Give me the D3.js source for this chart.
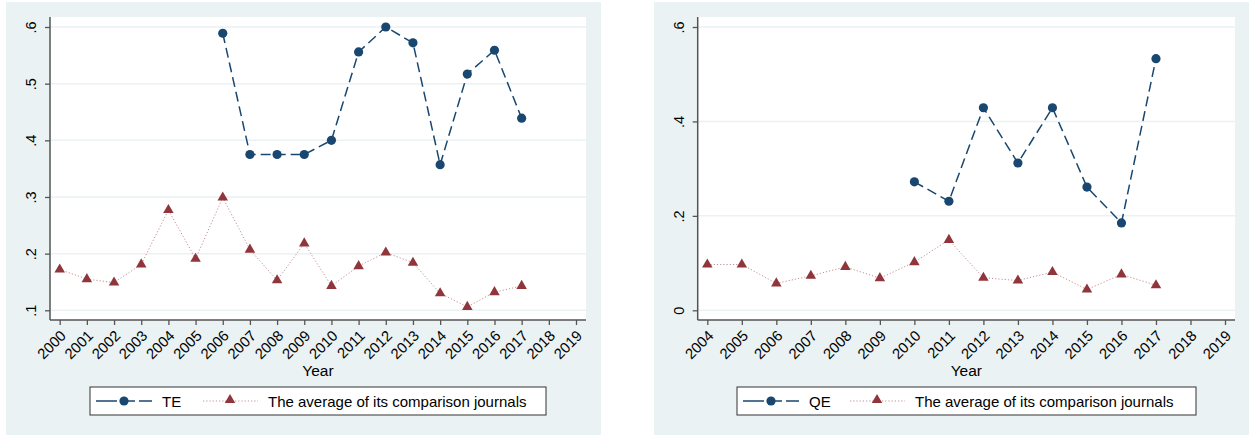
<!DOCTYPE html>
<meta charset="utf-8">
<script src="https://d3js.org/d3.v7.min.js"></script>
<style>
  body { margin: 0; background: #fff; }
  text { font-family: "Liberation Sans", Arial, sans-serif; fill: #000; }
</style>
<div id="chart"></div>
<script>
// ---- data ----
const teAxisYears = [2000, 2001, 2002, 2003, 2004, 2005, 2006, 2007, 2008, 2009,
                     2010, 2011, 2012, 2013, 2014, 2015, 2016, 2017, 2018, 2019];
const teYears = [2006, 2007, 2008, 2009, 2010, 2011, 2012, 2013, 2014, 2015, 2016, 2017];
const teValues = [0.589, 0.375, 0.375, 0.375, 0.400, 0.556, 0.600, 0.572, 0.357, 0.517, 0.559, 0.439];
const teAvgYears = [2000, 2001, 2002, 2003, 2004, 2005, 2006, 2007, 2008, 2009,
                    2010, 2011, 2012, 2013, 2014, 2015, 2016, 2017];
const teAvgValues = [0.172, 0.155, 0.149, 0.181, 0.277, 0.191, 0.299, 0.207, 0.153, 0.218,
                     0.143, 0.178, 0.202, 0.184, 0.130, 0.106, 0.132, 0.143];
const teTicks = [0.1, 0.2, 0.3, 0.4, 0.5, 0.6];
const teTickLabels = [".1", ".2", ".3", ".4", ".5", ".6"];

const qeAxisYears = [2004, 2005, 2006, 2007, 2008, 2009, 2010, 2011,
                     2012, 2013, 2014, 2015, 2016, 2017, 2018, 2019];
const qeYears = [2010, 2011, 2012, 2013, 2014, 2015, 2016, 2017];
const qeValues = [0.272, 0.231, 0.429, 0.312, 0.429, 0.261, 0.185, 0.533];
const qeAvgYears = [2004, 2005, 2006, 2007, 2008, 2009, 2010, 2011,
                    2012, 2013, 2014, 2015, 2016, 2017];
const qeAvgValues = [0.097, 0.097, 0.057, 0.073, 0.092, 0.068, 0.102, 0.149,
                     0.069, 0.063, 0.081, 0.044, 0.076, 0.053];
const qeTicks = [0, 0.2, 0.4, 0.6];
const qeTickLabels = ["0", ".2", ".4", ".6"];

const avgLabel = "The average of its comparison journals";

// ---- styling ----
const bg = "#eaf2f3", navy = "#1a476f", maroon = "#90353b";

const svg = d3.select("#chart").append("svg")
    .attr("width", 1255)
    .attr("height", 435);

function drawPanel(p) {
    const g = svg.append("g");

    // outer (graph) region
    g.append("rect")
        .attr("x", p.bgLeft).attr("y", 2)
        .attr("width", p.bgRight - p.bgLeft).attr("height", 440)
        .attr("fill", bg);

    // plot region
    g.append("rect")
        .attr("x", p.left).attr("y", p.top)
        .attr("width", p.right - p.left).attr("height", p.bottom - p.top)
        .attr("fill", "#fff");

    const x = d3.scaleLinear().domain(p.xDomain).range(p.xRange);
    const y = d3.scaleLinear().domain(p.yDomain).range([310.3, 27]);

    // gridlines
    g.append("g").selectAll("line")
        .data(p.ticks)
        .join("line")
        .attr("x1", p.left).attr("x2", p.right)
        .attr("y1", d => y(d)).attr("y2", d => y(d))
        .attr("stroke", bg).attr("stroke-width", 1.5);

    // y axis
    const yAxis = g.append("g")
        .attr("transform", `translate(${p.left},0)`)
        .call(d3.axisLeft(y).tickValues(p.ticks).tickSize(5)
              .tickFormat((d, i) => p.tickLabels[i]));
    yAxis.select(".domain").attr("d", `M0,${p.top}V${p.bottom}`)
        .attr("stroke", "#555").attr("stroke-width", 1.5);
    yAxis.selectAll(".tick line").attr("stroke", "#555").attr("stroke-width", 1.3);
    yAxis.selectAll(".tick text")
        .attr("font-size", 14.5)
        .attr("x", 0).attr("dy", 0)
        .attr("text-anchor", "middle")
        .attr("transform", "translate(-14,0) rotate(-90)");

    // x axis
    const xAxis = g.append("g")
        .attr("transform", `translate(0,${p.bottom})`)
        .call(d3.axisBottom(x).tickValues(p.axisYears).tickSize(5)
              .tickFormat(d3.format("d")));
    xAxis.select(".domain").attr("d", `M${p.left},0H${p.right}`)
        .attr("stroke", "#555").attr("stroke-width", 1.5);
    xAxis.selectAll(".tick line").attr("stroke", "#555").attr("stroke-width", 1.3);
    xAxis.selectAll(".tick text")
        .attr("font-size", 14.8)
        .attr("y", 0).attr("dy", "0.35em")
        .attr("text-anchor", "end")
        .attr("transform", "translate(3,13) rotate(-45)");

    g.append("text")
        .attr("x", (p.left + p.right) / 2).attr("y", 376)
        .attr("text-anchor", "middle").attr("font-size", 15.5)
        .text("Year");

    // average series: dotted line + triangles
    const avg = p.avgYears.map((yr, i) => [yr, p.avgValues[i]]);
    g.append("path")
        .datum(avg)
        .attr("fill", "none")
        .attr("stroke", maroon).attr("stroke-opacity", 0.55)
        .attr("stroke-width", 1).attr("stroke-dasharray", "1.2 2")
        .attr("d", d3.line().x(d => x(d[0])).y(d => y(d[1])));
    const tri = d3.symbol().type(d3.symbolTriangle).size(48);
    g.append("g").selectAll("path")
        .data(avg)
        .join("path")
        .attr("transform", d => `translate(${x(d[0])},${y(d[1])})`)
        .attr("d", tri)
        .attr("fill", maroon);

    // journal series: dashed line + circles
    const main = p.years.map((yr, i) => [yr, p.values[i]]);
    g.append("path")
        .datum(main)
        .attr("fill", "none")
        .attr("stroke", navy).attr("stroke-width", 1.5)
        .attr("stroke-dasharray", "10 5")
        .attr("d", d3.line().x(d => x(d[0])).y(d => y(d[1])));
    g.append("g").selectAll("circle")
        .data(main)
        .join("circle")
        .attr("cx", d => x(d[0])).attr("cy", d => y(d[1]))
        .attr("r", 4.6)
        .attr("fill", navy);

    // legend
    const lg = g.append("g").attr("transform", `translate(${p.legendLeft},387)`);
    lg.append("rect")
        .attr("width", p.legendWidth).attr("height", 28)
        .attr("fill", "#fff").attr("stroke", "#333").attr("stroke-width", 1);
    lg.append("path")
        .attr("d", "M6,14H27M30,14H45M49,14H62")
        .attr("fill", "none")
        .attr("stroke", navy).attr("stroke-width", 1.5);
    lg.append("circle").attr("cx", 34).attr("cy", 14).attr("r", 4.6).attr("fill", navy);
    lg.append("text").attr("x", 72).attr("y", 19.5).attr("font-size", 15).text(p.name);
    lg.append("line")
        .attr("x1", 113).attr("x2", 168).attr("y1", 14).attr("y2", 14)
        .attr("stroke", maroon).attr("stroke-opacity", 0.55)
        .attr("stroke-width", 1).attr("stroke-dasharray", "1.2 2");
    lg.append("path")
        .attr("transform", "translate(140,13)")
        .attr("d", tri).attr("fill", maroon);
    lg.append("text").attr("x", 178).attr("y", 19.5).attr("font-size", 15).text(avgLabel);
}

drawPanel({
    name: "TE",
    bgLeft: 6, bgRight: 601,
    left: 50, right: 586, top: 17, bottom: 320,
    xDomain: [2000, 2019], xRange: [59.7, 576],
    yDomain: [0.1, 0.6],
    ticks: teTicks, tickLabels: teTickLabels,
    axisYears: teAxisYears,
    years: teYears, values: teValues,
    avgYears: teAvgYears, avgValues: teAvgValues,
    legendLeft: 90, legendWidth: 456
});

drawPanel({
    name: "QE",
    bgLeft: 654, bgRight: 1249,
    left: 697.7, right: 1235, top: 17, bottom: 320,
    xDomain: [2004, 2019], xRange: [707.3, 1225],
    yDomain: [0, 0.6],
    ticks: qeTicks, tickLabels: qeTickLabels,
    axisYears: qeAxisYears,
    years: qeYears, values: qeValues,
    avgYears: qeAvgYears, avgValues: qeAvgValues,
    legendLeft: 737, legendWidth: 459
});
</script>
